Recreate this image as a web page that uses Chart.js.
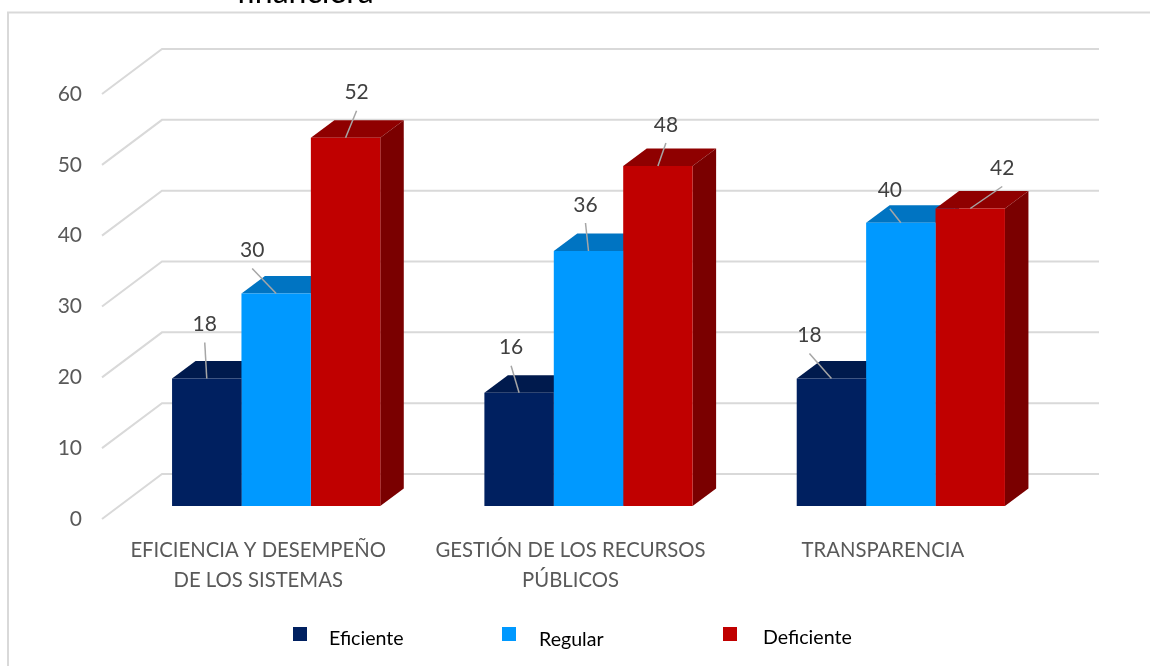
<!DOCTYPE html>
<html>
<head>
<meta charset="utf-8">
<title>Chart</title>
<script src="https://cdn.jsdelivr.net/npm/chart.js@4"></script>
<style>
    html, body { margin: 0; padding: 0; background: #ffffff; overflow: hidden; }
    canvas { display: block; }
</style>
</head>
<body>
<canvas id="chart" width="1150" height="666"></canvas>
<script>
const categories = [['EFICIENCIA Y DESEMPEÑO', 'DE LOS SISTEMAS'], ['GESTIÓN DE LOS RECURSOS', 'PÚBLICOS'], 'TRANSPARENCIA'];
const eficiente = [18, 16, 18];
const regular = [30, 36, 40];
const deficiente = [52, 48, 42];
const seriesNames = ['Eficiente', 'Regular', 'Deficiente'];
const chartTitle = 'financiera';

const fontName = 'Lato, Carlito, Calibri, sans-serif';
const frontColors = ['#002060', '#0099FF', '#C00000'];
const topColors = ['#001A4D', '#0074C2', '#8F0000'];
const sideColors = ['#00123A', '#005C99', '#7A0000'];

// wall depth and how far into it the bars stand
const wall = { dx: 60, dy: -45 };
const barPlane = { dx: 18, dy: -13 };
const barDepth = { dx: 23.5, dy: -17.5 };

// label position relative to the top of its bar, by series then category
const labelOffsets = [
    [[-2, -54], [-8, -45], [-22, -43]],
    [[-24, -43], [-3, -46], [-11, -32]],
    [[11, -45], [8, -41], [32, -40]]
];

const legendItems = [
    { box: 293, text: 329, textY: 639 },
    { box: 502, text: 539, textY: 640 },
    { box: 723, text: 763, textY: 638 }
];

function poly(ctx, pts, color) {
    ctx.fillStyle = color;
    ctx.beginPath();
    pts.forEach((p, i) => i ? ctx.lineTo(p[0], p[1]) : ctx.moveTo(p[0], p[1]));
    ctx.closePath();
    ctx.fill();
}

const wallPlugin = {
    id: 'wall',
    beforeDatasetsDraw(chart) {
        const ctx = chart.ctx;
        const area = chart.chartArea;
        const y = chart.scales.y;

        // outer frame, only top and left show in the picture
        ctx.save();
        ctx.strokeStyle = '#D9D9D9';
        ctx.lineWidth = 2;
        ctx.beginPath();
        ctx.moveTo(8, 666);
        ctx.lineTo(8, 12.5);
        ctx.lineTo(1150, 12.5);
        ctx.stroke();

        ctx.fillStyle = '#000000';
        ctx.font = '32px ' + fontName;
        ctx.textAlign = 'center';
        ctx.textBaseline = 'alphabetic';
        ctx.fillText(chartTitle, 305, 3);

        // gridlines: diagonal on the side wall then along the back wall
        y.ticks.forEach(t => {
            const py = y.getPixelForValue(t.value);
            ctx.beginPath();
            ctx.moveTo(area.left, py);
            ctx.lineTo(area.left + wall.dx, py + wall.dy);
            ctx.lineTo(area.right + wall.dx, py + wall.dy);
            ctx.stroke();
        });

        // tops and right sides of the bars, the front faces cover what they should
        ctx.translate(barPlane.dx, barPlane.dy);
        chart.data.datasets.forEach((ds, i) => {
            chart.getDatasetMeta(i).data.forEach(bar => {
                const left = bar.x - bar.width / 2;
                const right = bar.x + bar.width / 2;
                poly(ctx, [[left, bar.y], [left + barDepth.dx, bar.y + barDepth.dy],
                    [right + barDepth.dx, bar.y + barDepth.dy], [right, bar.y]], topColors[i]);
                poly(ctx, [[right, bar.y], [right + barDepth.dx, bar.y + barDepth.dy],
                    [right + barDepth.dx, bar.base + barDepth.dy], [right, bar.base]], sideColors[i]);
            });
        });
        ctx.restore();

        // chart.js draws the fronts next, shifted into the same plane
        ctx.save();
        ctx.translate(barPlane.dx, barPlane.dy);
    },
    afterDatasetsDraw(chart) {
        const ctx = chart.ctx;
        ctx.restore();

        ctx.save();
        // value labels with leader lines
        ctx.font = '21px ' + fontName;
        ctx.textAlign = 'center';
        ctx.textBaseline = 'middle';
        chart.data.datasets.forEach((ds, i) => {
            chart.getDatasetMeta(i).data.forEach((bar, j) => {
                const bx = bar.x + barPlane.dx;
                const by = bar.y + barPlane.dy;
                const lx = bx + labelOffsets[i][j][0];
                const ly = by + labelOffsets[i][j][1];
                ctx.strokeStyle = '#A6A6A6';
                ctx.lineWidth = 1.5;
                ctx.beginPath();
                ctx.moveTo(bx, by);
                ctx.lineTo(lx, ly + 18);
                ctx.stroke();
                ctx.fillStyle = '#404040';
                ctx.fillText(String(ds.data[j]), lx, ly);
            });
        });

        // legend is spread out with wide gaps, so it is drawn here
        ctx.font = '19.6px ' + fontName;
        ctx.textAlign = 'left';
        chart.data.datasets.forEach((ds, i) => {
            const item = legendItems[i];
            ctx.fillStyle = frontColors[i];
            ctx.fillRect(item.box, 627, 14, 14);
            ctx.fillStyle = '#000000';
            ctx.fillText(ds.label, item.text, item.textY);
        });
        ctx.restore();
    }
};

new Chart(document.getElementById('chart').getContext('2d'), {
    type: 'bar',
    data: {
        labels: categories,
        datasets: [eficiente, regular, deficiente].map((values, i) => ({
            label: seriesNames[i],
            data: values,
            backgroundColor: frontColors[i],
            categoryPercentage: 2 / 3,
            barPercentage: 1
        }))
    },
    plugins: [wallPlugin],
    options: {
        responsive: false,
        animation: false,
        layout: { padding: { top: 94, right: 111, left: 0, bottom: 0 } },
        plugins: {
            legend: { display: false },
            title: { display: false },
            tooltip: { enabled: false }
        },
        scales: {
            x: {
                grid: { display: false },
                border: { display: false },
                afterFit(scale) { scale.height = 147; },
                ticks: {
                    color: '#595959',
                    maxRotation: 0,
                    autoSkip: false,
                    padding: 8,
                    font: { family: fontName, size: 20.3, lineHeight: 1.48 }
                }
            },
            y: {
                min: 0,
                max: 60,
                grid: { display: false },
                border: { display: false },
                afterFit(scale) { scale.width = 102; },
                ticks: {
                    stepSize: 10,
                    color: '#595959',
                    padding: 12,
                    font: { family: fontName, size: 21 }
                }
            }
        }
    }
});
</script>
</body>
</html>
